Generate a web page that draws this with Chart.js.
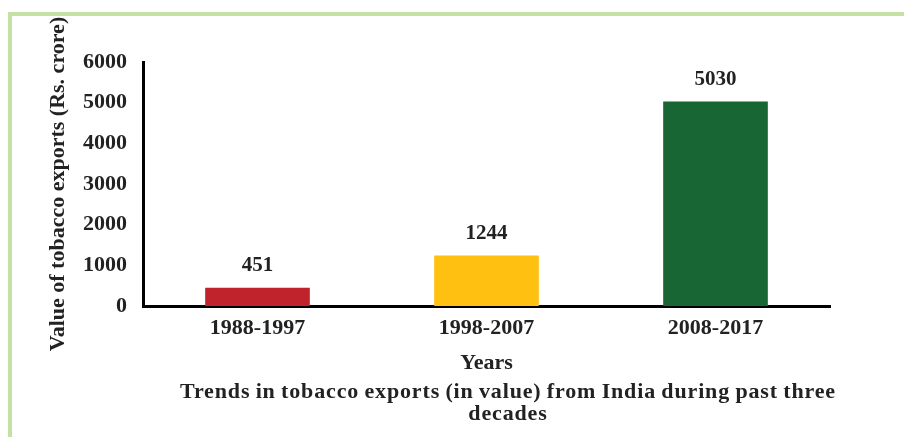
<!DOCTYPE html>
<html>
<head>
<meta charset="utf-8">
<script src="https://cdn.jsdelivr.net/npm/chart.js@4/dist/chart.umd.min.js"></script>
<style>
  html, body { margin: 0; padding: 0; background: #fff; }
  #wrap { position: relative; width: 904px; height: 437px; overflow: hidden; }
  #frame { position: absolute; left: 8px; top: 12px; width: 1000px; height: 1000px;
           border-top: 4px solid #c5e0a3; border-left: 4px solid #c5e0a3; box-sizing: border-box; }
  canvas { position: absolute; left: 0; top: 0; }
  #caption { position: absolute; left: 108px; width: 800px; top: 380px; text-align: center;
             font-family: "Liberation Serif", "Times New Roman", serif; font-weight: bold;
             font-size: 22px; line-height: 22px; color: #222; letter-spacing: 0.85px; word-spacing: -1px; }
</style>
</head>
<body>
<div id="wrap">
  <div id="frame"></div>
  <canvas id="c" width="904" height="437"></canvas>
  <div id="caption">Trends in tobacco exports (in value) from India during past three<br>decades</div>
</div>
<script>
const categories = ["1988-1997", "1998-2007", "2008-2017"];
const exportValues = [451, 1244, 5030];
const barColors = ["#c0232b", "#ffc012", "#186633"];
const yTicks = [0, 1000, 2000, 3000, 4000, 5000, 6000];
const yAxisTitle = "Value of tobacco exports (Rs. crore)";
const xAxisTitle = "Years";

const FONT = "'Liberation Serif', 'Times New Roman', serif";

const valueLabels = {
  id: 'valueLabels',
  afterDatasetsDraw(chart) {
    const ctx = chart.ctx;
    const meta = chart.getDatasetMeta(0);
    ctx.save();
    ctx.font = "bold 21px " + FONT;
    ctx.fillStyle = "#222";
    ctx.textAlign = "center";
    ctx.textBaseline = "middle";
    meta.data.forEach((bar, i) => {
      ctx.fillText(String(exportValues[i]), bar.x, bar.y - 22);
    });
    ctx.restore();
  }
};

new Chart(document.getElementById('c'), {
  type: 'bar',
  data: {
    labels: categories,
    datasets: [{
      data: exportValues,
      backgroundColor: barColors,
      borderWidth: 0,
      barPercentage: 0.457,
      categoryPercentage: 1.0
    }]
  },
  options: {
    responsive: false,
    devicePixelRatio: 1,
    animation: false,
    layout: { padding: { left: 43, right: 74, top: 62, bottom: 60 } },
    plugins: {
      legend: { display: false },
      tooltip: { enabled: false },
      title: { display: false }
    },
    scales: {
      x: {
        grid: { display: false, drawTicks: false },
        border: { display: true, color: '#000', width: 3 },
        ticks: { color: '#222', font: { family: FONT, size: 22, weight: 'bold' }, padding: 9 },
        title: { display: true, text: xAxisTitle, color: '#222',
                 font: { family: FONT, size: 22, weight: 'bold' }, padding: { top: 0, bottom: 0 } },
        afterFit(scale) { scale.height = 71; }
      },
      y: {
        min: 0, max: 6000,
        grid: { display: false, drawTicks: false },
        border: { display: true, color: '#000', width: 3 },
        afterBuildTicks(scale) { scale.ticks = yTicks.map(v => ({ value: v })); },
        ticks: { color: '#222', font: { family: FONT, size: 22, weight: 'bold' }, padding: 16,
                 callback: (v) => String(v) },
        title: { display: true, text: yAxisTitle, color: '#222',
                 font: { family: FONT, size: 22, weight: 'bold' }, padding: { top: 2, bottom: 0 } },
        afterFit(scale) { scale.width = 100; }
      }
    }
  },
  plugins: [valueLabels]
});
</script>
</body>
</html>
